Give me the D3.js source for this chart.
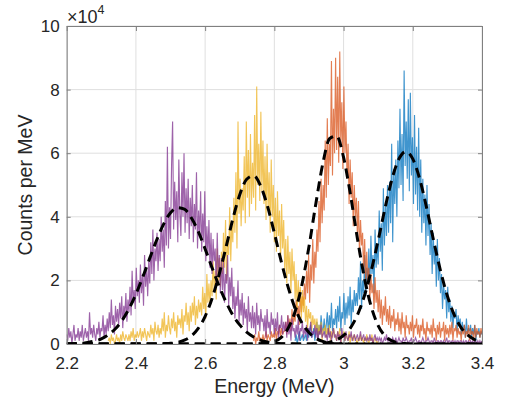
<!DOCTYPE html>
<html>
<head>
<meta charset="utf-8">
<script src="https://cdn.jsdelivr.net/npm/d3@7"></script>
<style>
body { margin: 0; background: #fff; }
text { font-family: "Liberation Sans", Arial, Helvetica, sans-serif; fill: #262626; }
</style>
</head>
<body>
<div id="viz"></div>
<script>
// measured spectra, counts per MeV in units of 1e4, one value every binStep MeV
var binStep = 0.003;

var purpleStart = 2.200;
var purpleCounts = [
  0.3,0.1,0.5,0.2,0.4,0.0,0.3,0.6,0.1,0.3,
  0.2,0.5,0.1,0.4,0.2,0.6,0.1,0.3,0.5,0.2,
  0.4,0.1,1.0,0.3,0.5,0.2,0.6,0.3,0.1,0.5,
  0.3,0.7,0.2,0.5,0.4,0.9,0.2,0.6,0.3,0.8,
  0.4,1.0,0.5,1.4,0.6,0.9,0.3,1.2,0.7,1.1,
  0.6,1.3,0.8,1.5,0.5,1.2,0.9,1.6,0.7,1.4,
  1.0,1.8,0.9,2.3,1.3,1.7,1.1,2.4,1.5,2.0,
  1.3,2.5,1.6,2.2,1.2,2.8,1.8,2.4,1.5,2.6,
  1.9,3.2,2.2,3.6,2.0,3.0,2.6,3.5,2.3,3.3,
  2.6,4.0,2.9,3.6,2.4,4.5,3.1,6.2,3.0,4.3,
  3.3,5.6,7.0,3.6,5.1,3.9,4.8,3.2,5.8,4.1,
  3.4,5.4,4.0,6.0,3.5,4.9,3.8,5.2,3.3,4.6,
  3.7,5.0,3.2,4.4,3.6,5.4,3.0,4.2,3.4,4.8,
  2.9,4.1,3.2,4.8,2.6,3.7,2.8,3.9,2.4,3.5,
  2.2,3.3,2.6,3.0,1.8,3.5,2.1,2.8,1.6,2.7,
  1.7,2.6,1.3,2.2,1.9,2.8,1.2,2.1,1.5,2.4,
  1.1,1.8,0.8,1.5,1.2,2.0,0.7,1.4,0.9,1.6,
  0.6,1.3,0.8,1.1,0.4,1.5,0.7,1.0,0.5,1.2,
  0.5,1.0,0.3,1.3,0.6,0.9,0.4,1.1,0.7,0.8,
  0.4,0.9,0.2,1.1,0.5,0.7,0.3,1.0,0.6,0.8,
  0.3,0.8,0.4,1.0,0.2,0.6,0.5,0.9,0.3,0.7,
  0.4,0.7,0.2,0.9,0.3,0.6,0.1,0.8,0.4,0.5,
  0.2,0.6,0.3,0.8,0.1,0.5,0.4,0.7,0.2,0.5,
  0.3,0.6,0.1,0.5,0.4,0.7,0.2,0.4,0.3,0.6,
  0.2,0.5,0.1,0.4,0.3,0.6,0.2,0.3,0.4,0.2,
  0.3,0.1,0.5,0.2,0.4,0.1,0.3,0.5,0.2,0.3,
  0.1,0.4,0.2,0.3,0.0,0.5,0.2,0.3,0.1,0.4,
  0.2,0.1,0.3,0.2,0.4,0.1,0.2,0.3,0.1,0.2,
  0.3,0.1,0.2,0.4,0.1,0.2,0.3,0.1,0.2,0.1,
  0.2,0.1,0.3,0.1,0.2,0.0,0.2,0.3,0.1,0.2,
  0.1,0.2,0.1,0.2,0.0,0.1,0.2,0.1,0.3,0.1,
  0.1,0.2,0.0,0.1,0.2,0.1,0.1,0.2,0.0,0.1,
  0.2,0.1,0.1,0.0,0.2,0.1,0.1,0.2,0.1,0.0,
  0.1,0.1,0.2,0.0,0.1,0.1,0.2,0.1,0.0,0.1,
  0.1,0.0,0.1,0.2,0.1,0.0,0.1,0.1,0.2,0.1,
  0.0,0.1,0.1,0.0,0.2,0.1,0.0,0.1,0.1,0.0,
  0.1,0.1,0.0,0.1,0.0,0.1,0.2,0.0,0.1,0.1,
  0.0,0.1,0.1,0.0,0.1,0.0,0.1,0.1,0.0,0.1,
  0.1,0.0,0.1,0.0,0.1,0.1,0.0,0.1,0.0,0.1,
  0.0,0.1,0.0,0.1,0.1,0.0,0.1,0.0,0.1,0.0,
  0.1
];

var yellowStart = 2.320;
var yellowCounts = [
  0.1,0.2,0.0,0.3,0.1,0.2,0.0,0.1,0.3,0.1,
  0.2,0.0,0.3,0.1,0.4,0.2,0.1,0.3,0.2,0.1,
  0.3,0.1,0.4,0.2,0.5,0.1,0.3,0.2,0.4,0.2,
  0.3,0.5,0.1,0.4,0.2,0.5,0.3,0.1,0.4,0.3,
  0.2,0.6,0.3,0.5,0.1,0.7,0.4,0.3,0.6,0.2,
  0.5,0.3,0.8,0.4,1.0,0.2,0.6,0.4,0.9,0.5,
  0.3,0.8,0.5,1.0,0.4,0.7,0.2,0.9,0.6,0.8,
  0.5,1.1,0.3,0.9,0.7,1.3,0.6,1.0,0.4,1.2,
  0.7,1.3,0.9,1.5,0.6,1.2,0.8,1.4,1.0,1.3,
  0.9,1.8,1.1,1.6,0.8,2.2,1.3,1.9,1.2,2.0,
  1.5,2.6,1.7,2.3,1.4,3.0,2.0,2.7,1.8,2.9,
  2.2,3.5,2.4,3.9,2.0,3.3,2.8,4.3,2.6,3.8,
  3.2,4.6,3.5,5.4,3.0,7.0,4.1,5.2,3.7,4.9,
  4.2,5.9,3.8,7.0,4.6,6.1,4.0,6.6,4.4,5.7,
  4.6,7.2,4.2,8.1,5.0,6.3,4.5,7.3,4.8,6.4,
  4.4,5.9,3.9,6.3,4.2,5.4,3.5,5.8,4.0,5.0,
  3.2,4.6,2.9,4.8,3.4,4.2,2.6,4.4,3.0,3.9,
  2.3,3.3,1.9,3.4,2.2,2.9,1.6,3.0,2.0,2.6,
  1.4,2.2,1.1,2.0,1.3,1.8,0.8,1.7,1.0,1.5,
  0.7,1.2,0.5,1.1,0.8,1.0,0.4,0.9,0.6,0.8,
  0.4,0.8,0.2,0.6,0.3,0.7,0.1,0.5,0.4,0.6,
  0.2,0.5,0.3,0.6,0.1,0.4,0.2,0.5,0.3,0.2,
  0.1,0.4,0.2,0.5,0.0,0.3,0.2,0.4,0.1,0.3,
  0.2,0.1,0.4,0.0,0.3,0.2,0.1,0.3,0.2,0.1,
  0.0,0.2,0.1,0.3,0.1,0.2,0.0,0.2,0.1,0.3,
  0.1,0.0,0.2,0.1,0.3,0.0,0.1,0.2,0.1,0.0,
  0.1
];

var orangeStart = 2.740;
var orangeCounts = [
  0.1,0.3,0.0,0.2,0.1,0.4,0.1,0.2,0.0,0.3,
  0.1,0.2,0.4,0.1,0.3,0.2,0.1,0.4,0.2,0.3,
  0.2,0.5,0.1,0.4,0.3,0.6,0.2,0.5,0.3,0.4,
  0.4,0.7,0.3,0.9,0.5,0.8,0.4,1.1,0.6,0.9,
  0.7,1.4,0.9,1.2,0.6,1.7,1.0,1.5,1.2,1.9,
  1.4,2.3,1.6,2.8,1.3,2.5,2.0,3.3,1.9,2.9,
  2.4,3.6,2.9,4.5,3.2,5.2,3.8,5.0,4.2,6.4,
  4.6,7.1,5.0,6.3,5.6,8.9,5.3,7.4,6.0,9.0,
  6.1,8.4,5.7,9.2,6.3,7.6,5.5,8.1,6.0,7.0,
  5.2,6.3,4.4,5.8,4.6,5.4,3.7,5.0,4.0,4.6,
  3.4,4.5,2.8,3.9,3.1,3.5,2.2,3.3,2.0,2.9,
  1.9,2.4,1.4,2.2,1.6,1.9,1.1,2.1,1.3,1.7,
  1.0,1.7,0.8,1.4,0.6,1.2,0.9,1.5,0.7,1.1,
  0.6,1.2,0.5,0.9,0.7,1.1,0.4,0.8,0.6,1.0,
  0.4,0.8,0.3,1.0,0.5,0.7,0.2,0.9,0.5,0.6,
  0.3,0.7,0.4,0.9,0.2,0.6,0.5,0.8,0.3,0.6,
  0.2,0.6,0.4,0.8,0.3,0.5,0.1,0.7,0.4,0.5,
  0.3,0.6,0.2,0.8,0.4,0.5,0.1,0.6,0.3,0.7,
  0.2,0.5,0.4,0.7,0.1,0.6,0.3,0.5,0.2,0.6,
  0.3,0.7,0.1,0.5,0.4,0.6,0.2,0.5,0.3,0.4,
  0.1,0.5,0.3,0.6,0.2,0.4,0.3,0.6,0.1,0.5,
  0.3,0.4,0.1,0.6,0.2,0.5,0.3,0.4,0.2,0.5,
  0.3
];

var blueStart = 2.860;
var blueCounts = [
  0.1,0.3,0.0,0.2,0.4,0.1,0.2,0.3,0.1,0.2,
  0.3,0.1,0.5,0.2,0.4,0.6,0.2,0.3,0.5,0.1,
  0.4,0.7,0.2,0.6,0.3,0.9,0.5,0.4,0.8,0.3,
  0.6,1.0,0.3,0.9,0.5,1.3,0.4,0.8,0.6,1.1,
  0.5,1.2,0.7,1.5,0.4,1.0,0.8,1.6,0.6,1.3,
  0.8,1.5,0.9,1.8,0.6,1.4,1.0,1.7,1.2,1.6,
  1.2,2.1,1.4,2.6,1.1,2.0,1.6,2.8,1.5,2.4,
  1.9,3.0,1.7,3.4,2.2,2.8,1.6,3.6,2.4,3.1,
  2.5,4.2,2.9,3.8,2.3,4.9,3.1,4.4,3.4,5.0,
  3.5,5.1,3.8,6.3,3.2,5.5,4.4,5.8,4.0,6.4,
  4.9,7.4,5.0,6.6,4.5,8.6,5.6,7.0,5.2,7.7,
  4.8,7.9,5.3,6.5,4.4,7.2,4.7,6.2,4.2,6.8,
  4.0,5.8,3.5,5.2,3.8,4.7,3.1,5.0,3.4,4.4,
  2.8,3.8,2.2,3.5,2.5,3.1,1.8,3.3,2.0,2.7,
  1.6,2.2,1.1,1.9,1.4,1.7,0.8,1.8,1.0,1.4,
  0.7,1.2,0.5,1.0,0.8,1.1,0.4,0.9,0.6,0.8,
  0.3,0.7,0.4,0.6,0.2,0.8,0.3,0.5,0.4,0.6,
  0.2,0.5,0.3,0.6,0.1,0.4,0.3,0.5,0.2,0.4,
  0.3
];

// gaussian fits, every fitStep MeV from fitStart
var fitStart = 2.20;
var fitStep = 0.02;
var purpleFit = [
  0.00,0.01,0.02,0.05,0.09,0.16,0.29,0.47,0.74,1.11,
  1.57,2.11,2.70,3.27,3.77,4.13,4.29,4.24,3.97,3.54,
  2.99,2.40,1.83,1.33,0.91,0.60,0.37,0.22,0.12,0.06,
  0.03,0.01,0.01,0,0,0,0,0,0,0,
  0,0,0,0,0,0,0,0,0,0,
  0,0,0,0,0,0,0,0,0,0,
  0
];
var yellowFit = [
  0,0,0,0,0,0,0,0,0,0,
  0,0,0.00,0.00,0.01,0.02,0.05,0.12,0.25,0.49,
  0.87,1.43,2.17,3.03,3.93,4.69,5.18,5.29,4.98,4.34,
  3.49,2.59,1.78,1.12,0.66,0.36,0.18,0.08,0.03,0.01,
  0.01,0,0,0,0,0,0,0,0,0,
  0,0,0,0,0,0,0,0,0,0,
  0
];
var orangeFit = [
  0,0,0,0,0,0,0,0,0,0,
  0,0,0,0,0,0,0,0,0,0,
  0,0,0,0,0,0,0,0,0.01,0.03,
  0.08,0.21,0.50,1.02,1.88,3.06,4.42,5.67,6.46,6.54,
  5.87,4.69,3.32,2.09,1.17,0.58,0.25,0.10,0.03,0.01,
  0,0,0,0,0,0,0,0,0,0,
  0
];
var blueFit = [
  0,0,0,0,0,0,0,0,0,0,
  0,0,0,0,0,0,0,0,0,0,
  0,0,0,0,0,0,0,0,0,0,
  0,0,0,0,0,0,0.01,0.02,0.06,0.13,
  0.27,0.51,0.91,1.51,2.31,3.26,4.28,5.19,5.82,6.05,
  5.82,5.19,4.28,3.26,2.31,1.51,0.91,0.51,0.27,0.13,
  0.06
];

var xTicks = [2.2, 2.4, 2.6, 2.8, 3.0, 3.2, 3.4];
var xTickLabels = ['2.2', '2.4', '2.6', '2.8', '3', '3.2', '3.4'];
var yTicks = [0, 2, 4, 6, 8, 10];

// drawn first to last, so purple ends up on top
var series = [
  { counts: blueCounts, start: blueStart, color: '#0072BD' },
  { counts: orangeCounts, start: orangeStart, color: '#D95319' },
  { counts: yellowCounts, start: yellowStart, color: '#EDB120' },
  { counts: purpleCounts, start: purpleStart, color: '#7E2F8E' }
];
var fits = [blueFit, orangeFit, yellowFit, purpleFit];

var W = 505, H = 404;
// plot box (don't call these top/left, window.top is read-only)
var boxL = 66.7, boxR = 482, boxT = 26, boxB = 344;

var x = d3.scaleLinear().domain([2.2, 3.4]).range([boxL, boxR]);
var y = d3.scaleLinear().domain([0, 10]).range([boxB, boxT]);

var svg = d3.select('#viz').append('svg').attr('width', W).attr('height', H);

svg.append('clipPath').attr('id', 'plotclip')
  .append('rect').attr('x', boxL).attr('y', boxT)
  .attr('width', boxR - boxL).attr('height', boxB - boxT);

// grid
var grid = svg.append('g').attr('stroke', '#dfdfdf').attr('stroke-width', 1);
grid.selectAll('line.gx').data(xTicks).enter().append('line')
  .attr('x1', function(d){ return x(d); }).attr('x2', function(d){ return x(d); })
  .attr('y1', boxT).attr('y2', boxB);
grid.selectAll('line.gy').data(yTicks).enter().append('line')
  .attr('y1', function(d){ return y(d); }).attr('y2', function(d){ return y(d); })
  .attr('x1', boxL).attr('x2', boxR);

var plot = svg.append('g').attr('clip-path', 'url(#plotclip)');

series.forEach(function(s){
  var line = d3.line()
    .x(function(d, i){ return x(s.start + i * binStep); })
    .y(function(d){ return y(d); });
  plot.append('path')
    .datum(s.counts)
    .attr('d', line)
    .attr('fill', 'none')
    .attr('stroke', s.color)
    .attr('stroke-opacity', 0.75)
    .attr('stroke-width', 1.15);
});

var fitLine = d3.line()
  .x(function(d, i){ return x(fitStart + i * fitStep); })
  .y(function(d){ return y(d); })
  .curve(d3.curveMonotoneX);

fits.forEach(function(f){
  plot.append('path')
    .datum(f)
    .attr('d', fitLine)
    .attr('fill', 'none')
    .attr('stroke', '#000')
    .attr('stroke-width', 3)
    .attr('stroke-dasharray', '10,6');
});

// axes, ticks pointing inward like matlab
function styleAxis(g) {
  g.select('.domain').attr('stroke', '#808080');
  g.selectAll('.tick line').attr('stroke', '#808080');
  g.selectAll('.tick text').style('font-size', '17px').attr('fill', '#262626');
}

svg.append('g').attr('transform', 'translate(0,' + boxB + ')')
  .call(d3.axisBottom(x).tickValues(xTicks)
    .tickFormat(function(d, i){ return xTickLabels[i]; })
    .tickSizeInner(-5).tickSizeOuter(0).tickPadding(13))
  .call(styleAxis);

svg.append('g').attr('transform', 'translate(0,' + boxT + ')')
  .call(d3.axisTop(x).tickValues(xTicks).tickFormat('')
    .tickSizeInner(-5).tickSizeOuter(0))
  .call(styleAxis);

svg.append('g').attr('transform', 'translate(' + boxL + ',0)')
  .call(d3.axisLeft(y).tickValues(yTicks).tickFormat(d3.format('d'))
    .tickSizeInner(-4).tickSizeOuter(0).tickPadding(7))
  .call(styleAxis);

svg.append('g').attr('transform', 'translate(' + boxR + ',0)')
  .call(d3.axisRight(y).tickValues(yTicks).tickFormat('')
    .tickSizeInner(-4).tickSizeOuter(0))
  .call(styleAxis);

// labels
svg.append('text')
  .attr('x', (boxL + boxR) / 2).attr('y', 393)
  .attr('text-anchor', 'middle')
  .style('font-size', '19.5px')
  .text('Energy (MeV)');

svg.append('text')
  .attr('transform', 'translate(32,' + (boxT + boxB) / 2 + ') rotate(-90)')
  .attr('text-anchor', 'middle')
  .style('font-size', '19.5px')
  .text('Counts per MeV');

var expo = svg.append('text').attr('x', 67).attr('y', 23).style('font-size', '18px');
expo.append('tspan').text('\u00d710');
expo.append('tspan').attr('dy', -9).style('font-size', '12.5px').text('4');
</script>
</body>
</html>
